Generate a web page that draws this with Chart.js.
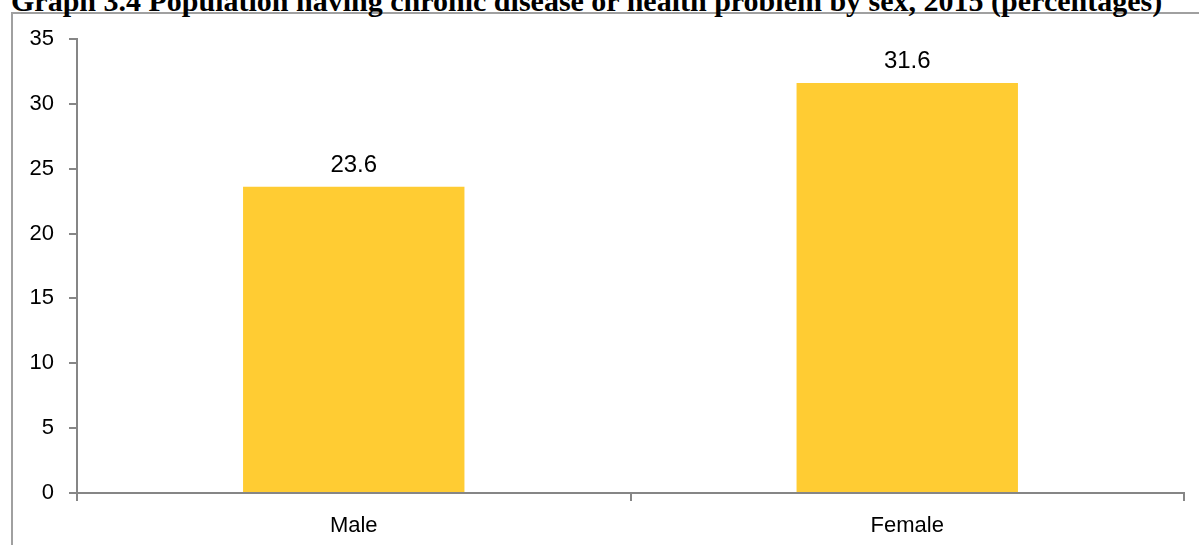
<!DOCTYPE html>
<html>
<head>
<meta charset="utf-8">
<title>Graph 3.4</title>
<script src="https://cdn.jsdelivr.net/npm/chart.js@4/dist/chart.umd.min.js"></script>
<style>
  html, body { margin: 0; padding: 0; background: #fff; overflow: hidden; }
  #wrap { position: relative; width: 1199px; height: 545px; overflow: hidden; }
  #title {
    position: absolute; left: 11px; top: -17px; white-space: nowrap;
    font-family: "Liberation Serif", "Times New Roman", serif;
    font-weight: bold; font-size: 30px; line-height: 36px; color: #000;
  }
  #frame {
    position: absolute; left: 11px; top: 12px; width: 1300px; height: 700px;
    border-left: 2px solid #a0a0a0; border-top: 2px solid #a0a0a0;
  }
  #chart { position: absolute; left: 0; top: 0; }
</style>
</head>
<body>
<div id="wrap">
  <div id="frame"></div>
  <div id="title">Graph 3.4 Population having chronic disease or health problem by sex, 2015 (percentages)</div>
  <canvas id="chart" width="1199" height="545"></canvas>
</div>
<script>
// Data
const categories = ['Male', 'Female'];
const percentages = [23.6, 31.6];
const yMax = 35;
const yStep = 5;

const axisColor = '#868686';
const barColor = '#FFCC33';

// Draw the value above each bar
const valueLabels = {
  id: 'valueLabels',
  afterDatasetsDraw(chart) {
    const ctx = chart.ctx;
    const meta = chart.getDatasetMeta(0);
    ctx.save();
    ctx.font = '24px "Liberation Sans", Arial, sans-serif';
    ctx.fillStyle = '#000';
    ctx.textAlign = 'center';
    ctx.textBaseline = 'alphabetic';
    meta.data.forEach((bar, i) => {
      ctx.fillText(percentages[i].toFixed(1), bar.x, bar.y - 15);
    });
    ctx.restore();
  }
};

const ctx = document.getElementById('chart').getContext('2d');
new Chart(ctx, {
  type: 'bar',
  data: {
    labels: categories,
    datasets: [{
      data: percentages,
      backgroundColor: barColor,
      borderWidth: 0,
      barPercentage: 0.4,
      categoryPercentage: 1
    }]
  },
  options: {
    responsive: false,
    animation: false,
    layout: { padding: { top: 39, right: 15, left: 0, bottom: 0 } },
    plugins: {
      legend: { display: false },
      tooltip: { enabled: false },
      title: { display: false }
    },
    scales: {
      x: {
        afterFit(scale) { scale.height = 52; },
        grid: {
          offset: true,
          drawOnChartArea: false,
          drawTicks: true,
          tickLength: 8,
          color: axisColor,
          lineWidth: 2
        },
        border: { color: axisColor, width: 2 },
        ticks: {
          color: '#000',
          padding: 12,
          font: { family: '"Liberation Sans", Arial, sans-serif', size: 22 }
        }
      },
      y: {
        min: 0,
        max: yMax,
        afterFit(scale) { scale.width = 77; },
        grid: {
          drawOnChartArea: false,
          drawTicks: true,
          tickLength: 8,
          color: axisColor,
          lineWidth: 2
        },
        border: { color: axisColor, width: 2 },
        ticks: {
          stepSize: yStep,
          color: '#000',
          padding: 15,
          font: { family: '"Liberation Sans", Arial, sans-serif', size: 22 }
        }
      }
    }
  },
  plugins: [valueLabels]
});
</script>
</body>
</html>
